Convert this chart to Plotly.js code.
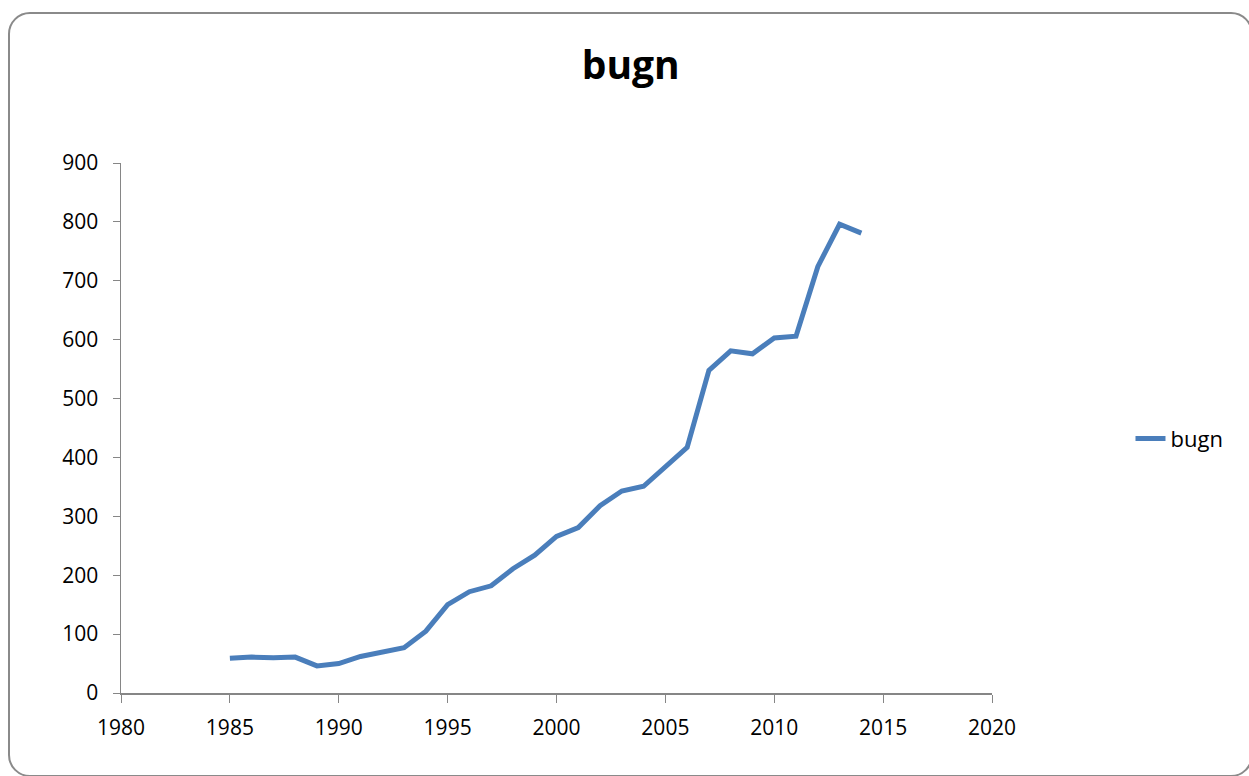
<!DOCTYPE html>
<html>
<head>
<meta charset="utf-8">
<script src="https://cdn.plot.ly/plotly-3.0.1.min.js"></script>
<style>
html,body{margin:0;padding:0;background:#fff;}
#wrap{position:relative;width:1249px;height:776px;overflow:hidden;}
#chart{position:absolute;left:0;top:0;width:1249px;height:776px;}
#frame{position:absolute;left:8px;top:12px;width:1245px;height:765px;border:2px solid #8a8a8a;border-radius:22px;box-sizing:border-box;pointer-events:none;}
</style>
</head>
<body>
<div id="wrap"><div id="chart"></div><div id="frame"></div></div>
<script>
const years = [1985,1986,1987,1988,1989,1990,1991,1992,1993,1994,1995,1996,1997,1998,1999,2000,2001,2002,2003,2004,2005,2006,2007,2008,2009,2010,2011,2012,2013,2014];
const bugn = [59,61,60,61,46,50,62,70,77,105,150,172,182,211,234,266,281,318,343,351,383,417,548,581,576,603,606,724,796,781];
const seriesName = "bugn";
const chartTitle = "bugn";

const font = "Open Sans, Noto Sans, sans-serif";
Plotly.newPlot('chart', [{
  x: years, y: bugn, type: 'scatter', mode: 'lines', name: seriesName,
  line: {color: '#4A7EBB', width: 5}
}], {
  width: 1249, height: 776,
  margin: {l: 121, r: 257, t: 163, b: 83},
  paper_bgcolor: '#ffffff', plot_bgcolor: '#ffffff',
  title: {text: '<b>' + chartTitle + '</b>', x: 0.505, xanchor: 'center', y: 0.916, yanchor: 'middle',
          font: {family: font, size: 39, color: '#000'}},
  showlegend: true,
  legend: {x: 1.159, xanchor: 'left', y: 0.48, yanchor: 'middle', font: {family: font, size: 22, color: '#000'}, bgcolor: 'rgba(0,0,0,0)'},
  xaxis: {range: [1980, 2020], dtick: 5, tick0: 1980, showgrid: false, zeroline: false,
          showline: true, linecolor: '#868686', linewidth: 1.5, ticks: 'outside', ticklen: 8, tickcolor: '#868686',
          ticklabelstandoff: 7,
          tickfont: {family: font, size: 21, color: '#000'}},
  yaxis: {range: [0, 900], dtick: 100, showgrid: false, zeroline: false,
          showline: true, linecolor: '#868686', linewidth: 1.5, ticks: 'outside', ticklen: 7, tickcolor: '#868686',
          ticklabelstandoff: 10,
          tickfont: {family: font, size: 21, color: '#000'}}
}, {displayModeBar: false, staticPlot: true});
</script>
</body>
</html>
